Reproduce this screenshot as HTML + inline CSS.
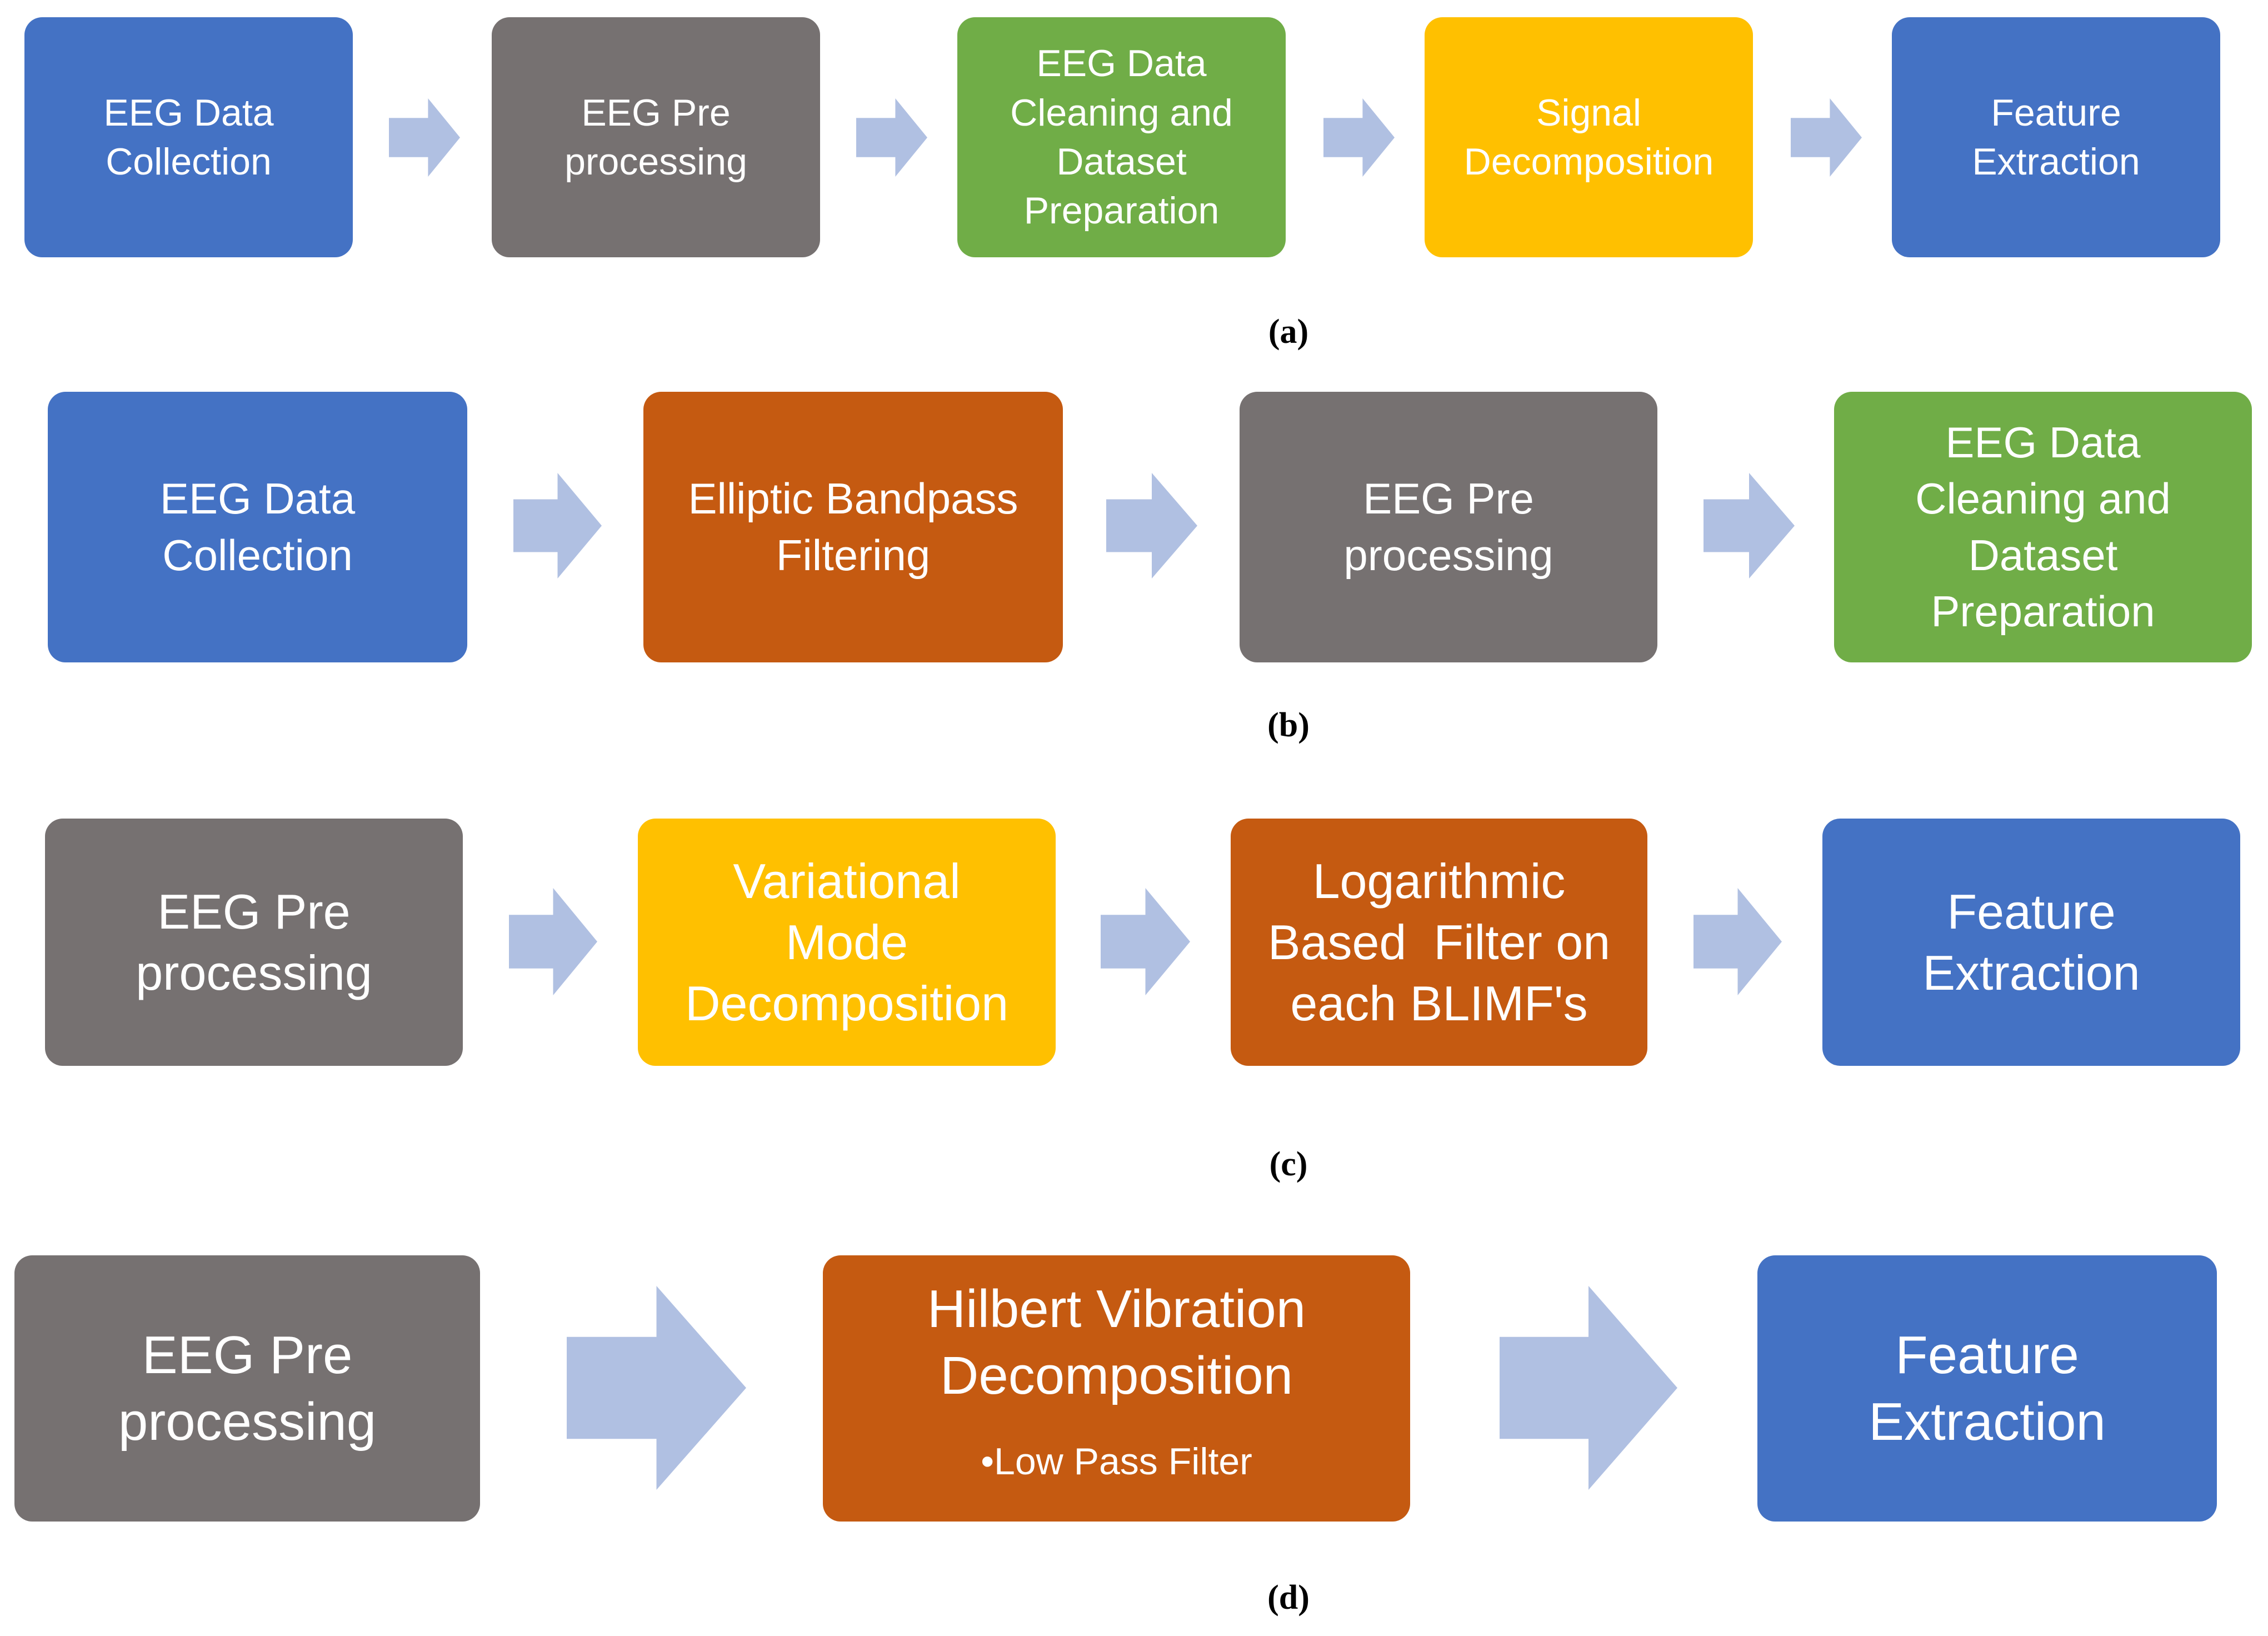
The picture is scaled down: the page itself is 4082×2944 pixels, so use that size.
<!DOCTYPE html>
<html><head><meta charset="utf-8"><style>
html,body{margin:0;padding:0;background:#fff;}
body{width:4082px;height:2944px;position:relative;overflow:hidden;font-family:"Liberation Sans",sans-serif;}
.b{position:absolute;border-radius:32px;color:#fff;display:flex;align-items:center;justify-content:center;text-align:center;flex-direction:column;line-height:1.3;}
.blue{background:#4472C4}.gray{background:#767171}.green{background:#70AD47}.yel{background:#FFC000}.or{background:#C55A11}
.cap{position:absolute;width:200px;text-align:center;font-family:"Liberation Serif",serif;font-size:62px;font-weight:bold;color:#000;}
svg.a{position:absolute;}
</style></head><body>
<!-- row a -->
<div class="b blue" style="left:44px;top:31px;width:591px;height:432px;font-size:68px">EEG Data<br>Collection</div>
<div class="b gray" style="left:885px;top:31px;width:591px;height:432px;font-size:68px">EEG Pre<br>processing</div>
<div class="b green" style="left:1723px;top:31px;width:591px;height:432px;font-size:68px">EEG Data<br>Cleaning and<br>Dataset<br>Preparation</div>
<div class="b yel" style="left:2564px;top:31px;width:591px;height:432px;font-size:68px">Signal<br>Decomposition</div>
<div class="b blue" style="left:3405px;top:31px;width:591px;height:432px;font-size:68px">Feature<br>Extraction</div>
<svg class="a" style="left:700px;top:177px" width="128" height="141" viewBox="0 0 100 100" preserveAspectRatio="none"><polygon points="0,25 55,25 55,0 100,50 55,100 55,75 0,75" fill="#B0C0E2"/></svg>
<svg class="a" style="left:1541px;top:177px" width="128" height="141" viewBox="0 0 100 100" preserveAspectRatio="none"><polygon points="0,25 55,25 55,0 100,50 55,100 55,75 0,75" fill="#B0C0E2"/></svg>
<svg class="a" style="left:2382px;top:177px" width="128" height="141" viewBox="0 0 100 100" preserveAspectRatio="none"><polygon points="0,25 55,25 55,0 100,50 55,100 55,75 0,75" fill="#B0C0E2"/></svg>
<svg class="a" style="left:3223px;top:177px" width="128" height="141" viewBox="0 0 100 100" preserveAspectRatio="none"><polygon points="0,25 55,25 55,0 100,50 55,100 55,75 0,75" fill="#B0C0E2"/></svg>
<div class="cap" style="left:2219px;top:562px">(a)</div>
<!-- row b -->
<div class="b blue" style="left:86px;top:705px;width:755px;height:487px;font-size:78px">EEG Data<br>Collection</div>
<div class="b or" style="left:1158px;top:705px;width:755px;height:487px;font-size:78px">Elliptic Bandpass<br>Filtering</div>
<div class="b gray" style="left:2231px;top:705px;width:752px;height:487px;font-size:78px">EEG Pre<br>processing</div>
<div class="b green" style="left:3301px;top:705px;width:752px;height:487px;font-size:78px">EEG Data<br>Cleaning and<br>Dataset<br>Preparation</div>
<svg class="a" style="left:924px;top:851px" width="159" height="190" viewBox="0 0 100 100" preserveAspectRatio="none"><polygon points="0,25 50,25 50,0 100,50 50,100 50,75 0,75" fill="#B0C0E2"/></svg>
<svg class="a" style="left:1991px;top:851px" width="164" height="190" viewBox="0 0 100 100" preserveAspectRatio="none"><polygon points="0,25 50,25 50,0 100,50 50,100 50,75 0,75" fill="#B0C0E2"/></svg>
<svg class="a" style="left:3066px;top:851px" width="164" height="190" viewBox="0 0 100 100" preserveAspectRatio="none"><polygon points="0,25 50,25 50,0 100,50 50,100 50,75 0,75" fill="#B0C0E2"/></svg>
<div class="cap" style="left:2219px;top:1270px">(b)</div>
<!-- row c -->
<div class="b gray" style="left:81px;top:1473px;width:752px;height:445px;font-size:88px;line-height:1.25">EEG Pre<br>processing</div>
<div class="b yel" style="left:1148px;top:1473px;width:752px;height:445px;font-size:88px;line-height:1.25">Variational<br>Mode<br>Decomposition</div>
<div class="b or" style="left:2215px;top:1473px;width:750px;height:445px;font-size:88px;line-height:1.25">Logarithmic<br>Based&nbsp; Filter on<br>each BLIMF's</div>
<div class="b blue" style="left:3280px;top:1473px;width:752px;height:445px;font-size:88px;line-height:1.25">Feature<br>Extraction</div>
<svg class="a" style="left:916px;top:1598px" width="159" height="193" viewBox="0 0 100 100" preserveAspectRatio="none"><polygon points="0,25 50,25 50,0 100,50 50,100 50,75 0,75" fill="#B0C0E2"/></svg>
<svg class="a" style="left:1981px;top:1598px" width="161" height="193" viewBox="0 0 100 100" preserveAspectRatio="none"><polygon points="0,25 50,25 50,0 100,50 50,100 50,75 0,75" fill="#B0C0E2"/></svg>
<svg class="a" style="left:3048px;top:1598px" width="159" height="193" viewBox="0 0 100 100" preserveAspectRatio="none"><polygon points="0,25 50,25 50,0 100,50 50,100 50,75 0,75" fill="#B0C0E2"/></svg>
<div class="cap" style="left:2219px;top:2060px">(c)</div>
<!-- row d -->
<div class="b gray" style="left:26px;top:2259px;width:838px;height:479px;font-size:96px;line-height:1.25">EEG Pre<br>processing</div>
<div class="b or" style="left:1481px;top:2259px;width:1057px;height:442px;padding-top:37px;justify-content:flex-start;font-size:96px;line-height:1.25"><div>Hilbert Vibration<br>Decomposition</div><div style="font-size:68px;line-height:1.3;margin-top:50px">•Low Pass Filter</div></div>
<div class="b blue" style="left:3163px;top:2259px;width:827px;height:479px;font-size:96px;line-height:1.25">Feature<br>Extraction</div>
<svg class="a" style="left:1020px;top:2314px" width="323" height="367" viewBox="0 0 100 100" preserveAspectRatio="none"><polygon points="0,25 50,25 50,0 100,50 50,100 50,75 0,75" fill="#B0C0E2"/></svg>
<svg class="a" style="left:2699px;top:2314px" width="320" height="367" viewBox="0 0 100 100" preserveAspectRatio="none"><polygon points="0,25 50,25 50,0 100,50 50,100 50,75 0,75" fill="#B0C0E2"/></svg>
<div class="cap" style="left:2219px;top:2840px">(d)</div>
</body></html>
